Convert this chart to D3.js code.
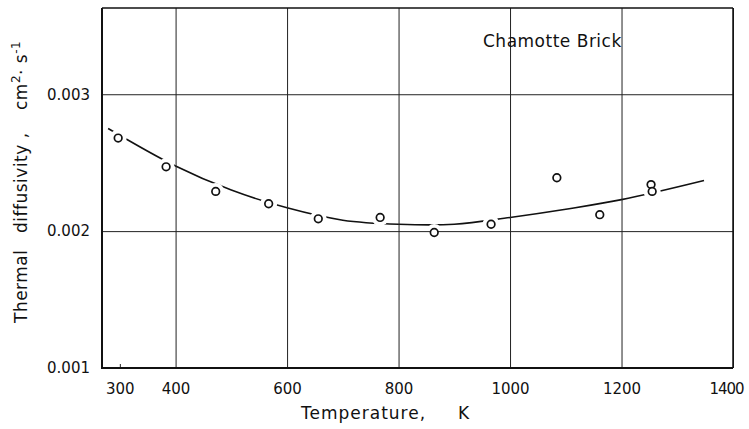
<!DOCTYPE html>
<html lang="en">

<head>
    <meta charset="UTF-8">
    <title>Chamotte Brick - thermal diffusivity</title>
    <style>
        * {
            margin: 0;
            padding: 0;
        }

        html,
        body {
            overflow: hidden;
            background: #fff;
        }

        text {
            font-family: 'DejaVu Sans', sans-serif;
            fill: #111;
        }
    </style>
</head>

<body>
    <div id="chart"></div>
    <script src="https://cdn.jsdelivr.net/npm/d3@7"></script>
    <script>
        // measured points (K, cm2/s)
        const temps = [297, 383, 472, 567, 656, 767, 864, 966, 1084, 1161, 1253, 1255]
        const diffusivity = [0.00268, 0.00247, 0.00229, 0.00220, 0.00209, 0.00210, 0.00199, 0.00205, 0.00239, 0.00212, 0.00234, 0.00229]

        // fitted curve
        const curveTemps = [279, 398, 500, 600, 700, 800, 900, 1000, 1100, 1200, 1348]
        const curveValues = [0.00275, 0.00248, 0.00230, 0.00217, 0.00208, 0.00205, 0.00205, 0.00210, 0.00216, 0.00223, 0.00237]

        const xTicks = [300, 400, 600, 800, 1000, 1200, 1400]
        const yTicks = [0.001, 0.002, 0.003]

        function drawChart() {
            const width = 749
            const height = 429
            const margin = { left: 102, right: 16, top: 8, bottom: 61 }
            const plotW = width - margin.left - margin.right
            const plotH = height - margin.top - margin.bottom

            const svg = d3.select('#chart')
                .append('svg')
                .attr('width', width)
                .attr('height', height)

            const x = d3.scaleLinear()
                .domain([268, 1400])
                .range([margin.left, margin.left + plotW])

            const y = d3.scaleLinear()
                .domain([0.001, 0.00363])
                .range([margin.top + plotH, margin.top])

            // curve first, white halos cut it around the circles
            const line = d3.line()
                .x(d => x(d[0]))
                .y(d => y(d[1]))
                .curve(d3.curveCatmullRom)

            svg.append('path')
                .datum(d3.zip(curveTemps, curveValues))
                .attr('d', line)
                .attr('fill', 'none')
                .attr('stroke', '#111')
                .attr('stroke-width', 1.6)

            const points = d3.zip(temps, diffusivity)

            svg.append('g')
                .selectAll('circle')
                .data(points)
                .join('circle')
                .attr('cx', d => x(d[0]))
                .attr('cy', d => y(d[1]))
                .attr('r', 8.5)
                .attr('fill', '#fff')

            // y axis with horizontal grid
            const yAxis = svg.append('g')
                .attr('transform', `translate(${margin.left},0)`)
                .call(d3.axisLeft(y)
                    .tickValues(yTicks)
                    .tickSize(-plotW)
                    .tickPadding(12)
                    .tickFormat(d3.format('.3f')))

            yAxis.select('.domain').remove()
            yAxis.selectAll('line')
                .attr('stroke', '#222')
                .attr('stroke-width', 1)
            yAxis.selectAll('text')
                .style('font-size', '15px')
                .attr('fill', '#111')

            // x axis with vertical grid
            const xAxis = svg.append('g')
                .attr('transform', `translate(0,${margin.top + plotH})`)
                .call(d3.axisBottom(x)
                    .tickValues(xTicks)
                    .tickSize(-plotH)
                    .tickPadding(15)
                    .tickFormat(d3.format('d')))

            xAxis.select('.domain').remove()
            xAxis.selectAll('line')
                .attr('stroke', '#222')
                .attr('stroke-width', 1)
            // 300 only gets a short tick
            xAxis.selectAll('.tick')
                .filter(d => d === 300)
                .select('line')
                .attr('y2', -4)
            xAxis.selectAll('text')
                .style('font-size', '15px')
                .attr('fill', '#111')
            // last label sits against the page edge
            xAxis.selectAll('.tick')
                .filter(d => d === 1400)
                .select('text')
                .attr('dx', -7)
                .style('letter-spacing', '-1px')

            // frame
            const x0 = x.range()[0], x1 = x.range()[1]
            const y0 = y.range()[1], y1 = y.range()[0]
            const frame = svg.append('g').attr('stroke', '#111').attr('fill', 'none')
            frame.append('line').attr('x1', x0).attr('x2', x0).attr('y1', y0).attr('y2', y1).attr('stroke-width', 2)
            frame.append('line').attr('x1', x0 - 1).attr('x2', x1).attr('y1', y1).attr('y2', y1).attr('stroke-width', 2)
            frame.append('line').attr('x1', x0).attr('x2', x1).attr('y1', y0).attr('y2', y0).attr('stroke-width', 1.5)
            frame.append('line').attr('x1', x1).attr('x2', x1).attr('y1', y0).attr('y2', y1).attr('stroke-width', 1.5)

            // data circles
            svg.append('g')
                .selectAll('circle')
                .data(points)
                .join('circle')
                .attr('cx', d => x(d[0]))
                .attr('cy', d => y(d[1]))
                .attr('r', 3.8)
                .attr('fill', '#fff')
                .attr('stroke', '#111')
                .attr('stroke-width', 1.7)

            // title inside plot
            svg.append('text')
                .attr('x', 483)
                .attr('y', 47)
                .text('Chamotte Brick')
                .style('font-size', '17px')
                .style('letter-spacing', '0.5px')

            // x label
            svg.append('text')
                .attr('x', 301)
                .attr('y', 419)
                .text('Temperature,')
                .style('font-size', '17px')
                .style('letter-spacing', '1px')
            svg.append('text')
                .attr('x', 458)
                .attr('y', 419)
                .text('K')
                .style('font-size', '17px')

            // y label, rotated pieces
            const yl = svg.append('g')
                .attr('transform', 'translate(27,0) rotate(-90)')
                .style('font-size', '17px')
                .style('letter-spacing', '0.5px')

            yl.append('text').attr('x', -323).attr('y', 0).text('Thermal')
            yl.append('text').attr('x', -233).attr('y', 0).text('diffusivity ,')
            const unit = yl.append('text').attr('x', -110).attr('y', 0)
            unit.append('tspan').text('cm')
            unit.append('tspan').attr('dy', -7).style('font-size', '12px').text('2')
            unit.append('tspan').attr('dy', 7).text('· s')
            unit.append('tspan').attr('dy', -7).style('font-size', '12px').text('-1')
        }

        drawChart()
    </script>
</body>

</html>
